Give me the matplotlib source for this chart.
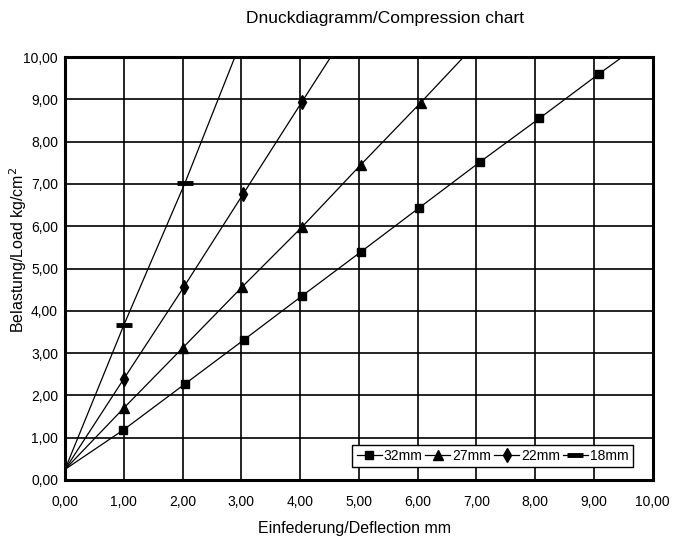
import matplotlib
matplotlib.use("Agg")
import matplotlib.pyplot as plt

plt.rcParams['font.family'] = ['Liberation Sans', 'DejaVu Sans']
plt.rcParams['font.size'] = 10

# measured points, each series starts at (0, 0.25) and ends where the line leaves the plot
x_32 = [0.0, 0.99, 2.04, 3.04, 4.03, 5.03, 6.02, 7.06, 8.07, 9.08, 9.48]
y_32 = [0.25, 1.18, 2.27, 3.31, 4.35, 5.39, 6.43, 7.52, 8.55, 9.60, 10.0]
x_27 = [0.0, 1.0, 2.0, 3.01, 4.03, 5.03, 6.05, 6.78]
y_27 = [0.25, 1.70, 3.12, 4.56, 5.98, 7.45, 8.92, 10.0]
x_22 = [0.0, 1.0, 2.02, 3.03, 4.03, 4.52]
y_22 = [0.25, 2.39, 4.56, 6.76, 8.94, 10.0]
x_18 = [0.0, 1.0, 2.04, 2.89]
y_18 = [0.25, 3.66, 7.02, 10.0]

series = [
    ("32mm", x_32, y_32, dict(marker='s', markersize=5.5)),
    ("27mm", x_27, y_27, dict(marker='^', markersize=7)),
    ("22mm", x_22, y_22, dict(marker='d', markersize=7)),
    ("18mm", x_18, y_18, dict(marker='_', markersize=11, markeredgewidth=3.5)),
]

ticks = list(range(0, 11))
tick_labels = [f"{t},00" for t in ticks]

fig = plt.figure(figsize=(6.75, 5.39), dpi=100)
ax = fig.add_axes([0.0963, 0.1095, 0.8707, 0.7845])

for name, xs, ys, style in series:
    ax.plot(xs, ys, color='black', linewidth=0.9, markevery=slice(1, -1),
            markerfacecolor='black', markeredgecolor='black', label=name,
            **style)

ax.set_xlim(0, 10)
ax.set_ylim(0, 10)
ax.set_xticks(ticks)
ax.set_yticks(ticks)
ax.set_xticklabels(tick_labels)
ax.set_yticklabels(tick_labels)
ax.tick_params(axis='both', length=0, labelsize=10)
ax.tick_params(axis='x', pad=11)
ax.tick_params(axis='y', pad=5)
ax.grid(True, color='black', linewidth=1.2)
ax.set_axisbelow(True)
for sp in ax.spines.values():
    sp.set_linewidth(2.2)
    sp.set_color('black')

fig.text(355 / 675, 1 - 528 / 539, "Einfederung/Deflection mm",
         ha='center', va='center', fontsize=11.5)
fig.text(18 / 675, 1 - 250 / 539, "Belastung/Load kg/cm$^2$",
         ha='center', va='center', rotation=90, fontsize=11.5)
fig.text(385 / 675, 1 - 18 / 539, "Dnuckdiagramm/Compression chart",
         ha='center', va='center', fontsize=12.5)

leg = ax.legend(loc='lower right', bbox_to_anchor=(0.966, 0.031), ncol=4,
                frameon=True, fancybox=False, framealpha=1, edgecolor='black',
                handlelength=1.8, handletextpad=0.15, columnspacing=0.2,
                borderpad=0.3, borderaxespad=0, fontsize=10)
leg.get_frame().set_linewidth(1.0)

fig.savefig("out.png", dpi=100)
